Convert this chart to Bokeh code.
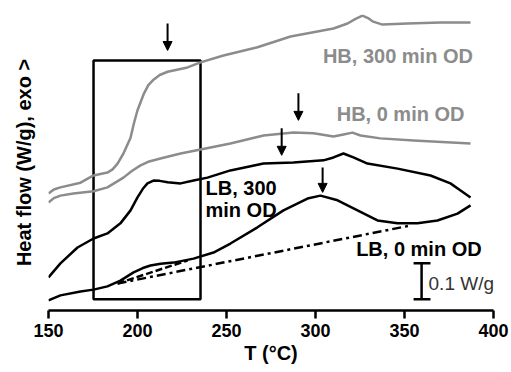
from bokeh.plotting import figure
from bokeh.models import Range1d, Label, Arrow, NormalHead, FixedTicker
from bokeh.embed import file_html
from bokeh.resources import INLINE

# ---- data (T in °C, heat flow in W/g, stacked offsets) ----
hb300_t = [150, 153.0, 156.7, 168.0, 175.3, 183.1, 186.0, 188.8, 192.1, 196.1, 198.0, 200.0, 203.4,
           206.0, 209.0, 212.5, 216.9, 228.1, 235.4, 248.3, 267.4, 286.0, 310.1, 318.0, 322.5,
           326.4, 329.5, 332.0, 337.6, 351.7, 370.2, 387.1]
hb300_q = [0.325, 0.336, 0.342, 0.355, 0.375, 0.383, 0.392, 0.408, 0.436, 0.480, 0.520, 0.556,
           0.600, 0.625, 0.641, 0.654, 0.663, 0.675, 0.689, 0.708, 0.731, 0.761, 0.783, 0.797,
           0.810, 0.819, 0.812, 0.803, 0.794, 0.797, 0.800, 0.800]

hb0_t = [150, 153.0, 156.7, 164.0, 175.3, 183.1, 192.1, 197.0, 201.7, 206.0, 212.9, 224.2, 235.4,
         252.2, 270.8, 287.6, 298.9, 310.1, 315.7, 320.8, 325.3, 336.5, 355.1, 387.1]
hb0_q = [0.300, 0.312, 0.319, 0.325, 0.331, 0.342, 0.369, 0.388, 0.403, 0.413, 0.422, 0.436,
         0.447, 0.464, 0.486, 0.494, 0.492, 0.483, 0.489, 0.494, 0.486, 0.478, 0.472, 0.464]

lb300_t = [150, 156.7, 166.3, 175.3, 183.1, 190.4, 196.1, 200.0, 203.0, 205.6, 209.0, 212.5,
           216.9, 224.2, 231.5, 239.3, 252.2, 270.8, 287.6, 304.5, 310.1, 315.7, 321.3, 329.2,
           346.1, 364.6, 375.8, 381.5, 387.1]
lb300_q = [0.092, 0.131, 0.175, 0.200, 0.214, 0.242, 0.278, 0.314, 0.338, 0.353, 0.361, 0.360,
           0.356, 0.353, 0.361, 0.369, 0.389, 0.408, 0.411, 0.417, 0.425, 0.436, 0.425, 0.408,
           0.394, 0.375, 0.353, 0.333, 0.314]

lb0_t = [150, 156.7, 168.0, 175.3, 183.1, 190.4, 197.8, 203.0, 207.3, 213.0, 220.2, 231.5, 242.7,
         252.2, 267.4, 282.0, 295.5, 302.8, 312.4, 323.6, 334.8, 346.1, 357.3, 368.5, 379.8, 387.1]
lb0_q = [0.028, 0.042, 0.053, 0.058, 0.067, 0.083, 0.106, 0.118, 0.125, 0.130, 0.133, 0.144,
         0.161, 0.186, 0.231, 0.278, 0.311, 0.319, 0.306, 0.278, 0.250, 0.242, 0.242, 0.250,
         0.269, 0.292]

base_long_t = [188.8, 353.4]
base_long_q = [0.075, 0.236]
base_short_t = [188.8, 228.1]
base_short_q = [0.075, 0.139]

arrow_t = [216.9, 290.4, 281.0, 304.0]
arrow_top = [0.797, 0.603, 0.506, 0.397]
arrow_tip = [0.722, 0.528, 0.431, 0.328]

x_ticks = [150, 200, 250, 300, 350, 400]

GRAY = "#8c8c8c"
FONT = "Liberation Sans"

p = figure(width=511, height=372, output_backend="svg", toolbar_location=None,
           x_range=Range1d(150, 400), y_range=Range1d(0, 0.822),
           min_border_left=48, min_border_right=18, min_border_top=14, min_border_bottom=62)
p.outline_line_color = None
p.xgrid.visible = False
p.ygrid.visible = False

# x axis
xa = p.xaxis[0]
xa.ticker = FixedTicker(ticks=x_ticks)
xa.axis_line_width = 2.5
xa.major_tick_line_width = 2.5
xa.major_tick_out = 8
xa.major_tick_in = 0
xa.minor_tick_line_color = None
xa.major_label_text_font = FONT
xa.major_label_text_font_style = "bold"
xa.major_label_text_font_size = "18px"
xa.major_label_text_color = "black"
xa.major_label_standoff = 5
xa.axis_label = "T (°C)"
xa.axis_label_text_font = FONT
xa.axis_label_text_font_style = "bold"
xa.axis_label_text_font_size = "20px"
xa.axis_label_text_color = "black"
xa.axis_label_standoff = 2

# y axis: label only
ya = p.yaxis[0]
ya.ticker = FixedTicker(ticks=[])
ya.axis_line_color = None
ya.major_tick_line_color = None
ya.minor_tick_line_color = None
ya.major_label_standoff = 0
ya.major_tick_out = 0
ya.axis_label = "Heat flow (W/g), exo >"
ya.axis_label_text_font = FONT
ya.axis_label_text_font_style = "bold"
ya.axis_label_text_font_size = "20px"
ya.axis_label_text_color = "black"
ya.axis_label_standoff = 14

# box
p.quad(left=175.3, right=235.4, bottom=0.031, top=0.694, fill_color=None,
       line_color="black", line_width=2.5)

# curves
p.line(hb300_t, hb300_q, line_color=GRAY, line_width=2.5, line_join="round")
p.line(hb0_t, hb0_q, line_color=GRAY, line_width=2.5, line_join="round")
p.line(lb300_t, lb300_q, line_color="black", line_width=2.5, line_join="round")
p.line(lb0_t, lb0_q, line_color="black", line_width=2.5, line_join="round")
p.line(base_long_t, base_long_q, line_color="black", line_width=2.5, line_dash="9 4 3 4")
p.line(base_short_t, base_short_q, line_color="black", line_width=2.5, line_dash="7 3")

# arrows
for t, a, b in zip(arrow_t, arrow_top, arrow_tip):
    p.add_layout(Arrow(end=NormalHead(size=9, fill_color="black", line_color="black", line_width=1),
                       x_start=t, y_start=a, x_end=t, y_end=b,
                       line_color="black", line_width=2))

# scale bar
p.segment(x0=[359.6, 355.1, 355.1], y0=[0.031, 0.031, 0.131],
          x1=[359.6, 364.6, 364.6], y1=[0.131, 0.031, 0.131],
          line_color="black", line_width=2.5)

def lab(x, y, txt, color="black", align="center", style="bold", size="20px"):
    p.add_layout(Label(x=x, y=y, text=txt, text_color=color, text_align=align,
                       text_baseline="middle", text_font=FONT, text_font_style=style,
                       text_font_size=size))

lab(346.3, 0.708, "HB, 300 min OD", GRAY)
lab(347.8, 0.547, "HB, 0 min OD", GRAY)
lab(238.2, 0.339, "LB, 300", align="left")
lab(238.2, 0.278, "min OD", align="left")
lab(358.1, 0.172, "LB, 0 min OD")
lab(363.5, 0.075, "0.1 W/g", color="#333333", align="left", style="normal", size="19px")

open("out.html", "w").write(file_html(p, INLINE))
